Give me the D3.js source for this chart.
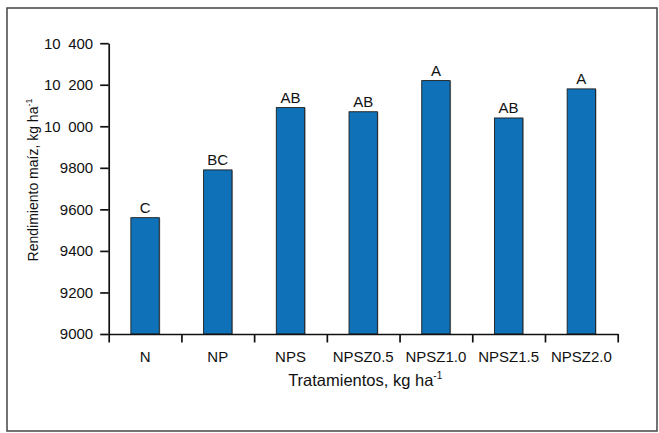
<!DOCTYPE html>
<html>
<head>
<meta charset="utf-8">
<script src="https://cdn.jsdelivr.net/npm/d3@7"></script>
<style>
  body { margin: 0; background: #fff; }
  svg { display: block; font-family: "Liberation Sans", Arial, sans-serif; }
</style>
</head>
<body>
<script>
// data
var categories = ["N", "NP", "NPS", "NPSZ0.5", "NPSZ1.0", "NPSZ1.5", "NPSZ2.0"];
var yields = [9560, 9790, 10090, 10070, 10220, 10040, 10180];
var letters = ["C", "BC", "AB", "AB", "A", "AB", "A"];
var yTicks = [9000, 9200, 9400, 9600, 9800, 10000, 10200, 10400];

var outerWidth = 659;
var outerHeight = 433;
var plotLeft = 108.7, plotRight = 617.7, plotTop = 43.2, plotBottom = 334;

var svg = d3.select("body").append("svg")
    .attr("width", outerWidth)
    .attr("height", outerHeight);

// outer frame
svg.append("rect")
    .attr("x", 7).attr("y", 8)
    .attr("width", 650).attr("height", 423)
    .attr("fill", "none")
    .attr("stroke", "#444")
    .attr("stroke-width", 1.5);

var xScale = d3.scaleBand().domain(categories).range([plotLeft, plotRight]).padding(0);
var xEdge = d3.scaleLinear().domain([0, categories.length]).range([plotLeft, plotRight]);
var yScale = d3.scaleLinear().domain([9000, 10400]).range([plotBottom, plotTop]);

// "10 400" style thousands
var fmt = function(d) {
    if (d >= 10000) {
        var s = String(d);
        return s.slice(0, 2) + "\u2002" + s.slice(2);
    }
    return String(d);
};

// bars
var bw = xScale.bandwidth() * 0.39;
var barX = function(d, i) { return xScale(categories[i]) + (xScale.bandwidth() - bw) / 2; };
var bars = svg.append("g");
bars.selectAll("rect.shadow").data(yields).enter().append("rect")
    .attr("class", "shadow")
    .attr("x", function(d, i) { return barX(d, i) + 1; })
    .attr("y", function(d) { return yScale(d) + 0.5; })
    .attr("width", bw)
    .attr("height", function(d) { return plotBottom - yScale(d) - 0.5; })
    .attr("fill", "#a0a0a0");
bars.selectAll("rect.bar").data(yields).enter().append("rect")
    .attr("class", "bar")
    .attr("x", barX)
    .attr("y", function(d) { return yScale(d); })
    .attr("width", bw)
    .attr("height", function(d) { return plotBottom - yScale(d); })
    .attr("fill", "#0f71b7")
    .attr("stroke", "#1c1c1c")
    .attr("stroke-width", 0.9);

// significance letters
svg.append("g").selectAll("text").data(yields).enter().append("text")
    .attr("x", function(d, i) { return xScale(categories[i]) + xScale.bandwidth() / 2; })
    .attr("y", function(d) { return yScale(d) - 5; })
    .attr("text-anchor", "middle")
    .attr("font-size", 15)
    .attr("fill", "#111")
    .text(function(d, i) { return letters[i]; });

// y axis
svg.append("g")
    .attr("transform", "translate(" + plotLeft + ",0)")
    .call(d3.axisLeft(yScale).tickValues(yTicks).tickFormat(fmt)
        .tickSize(8.5).tickSizeOuter(0).tickPadding(7));

// x axis: boundary ticks
svg.append("g")
    .attr("transform", "translate(0," + plotBottom + ")")
    .call(d3.axisBottom(xEdge).tickValues(d3.range(categories.length + 1))
        .tickFormat("").tickSize(8.5).tickSizeOuter(0));

// x axis: category labels
var xLabelG = svg.append("g")
    .attr("transform", "translate(0," + plotBottom + ")")
    .call(d3.axisBottom(xScale).tickSize(0).tickPadding(17));
xLabelG.select(".domain").remove();

svg.selectAll(".tick text")
    .attr("font-size", 15)
    .attr("font-family", "Liberation Sans, Arial, sans-serif")
    .attr("fill", "#111");
svg.selectAll(".domain, .tick line")
    .attr("stroke", "#111")
    .attr("stroke-width", 1.7);

// axis titles
var xt = svg.append("text")
    .attr("x", (plotLeft + plotRight) / 2 + 2)
    .attr("y", 386)
    .attr("text-anchor", "middle")
    .attr("font-size", 16.5)
    .attr("fill", "#111");
xt.append("tspan").text("Tratamientos, kg ha");
xt.append("tspan").attr("font-size", 10).attr("dy", -7).text("-1");

var yt = svg.append("text")
    .attr("transform", "translate(38,180) rotate(-90)")
    .attr("text-anchor", "middle")
    .attr("font-size", 14)
    .attr("fill", "#111");
yt.append("tspan").text("Rendimiento maíz, kg ha");
yt.append("tspan").attr("font-size", 9).attr("dy", -6).text("-1");
</script>
</body>
</html>
